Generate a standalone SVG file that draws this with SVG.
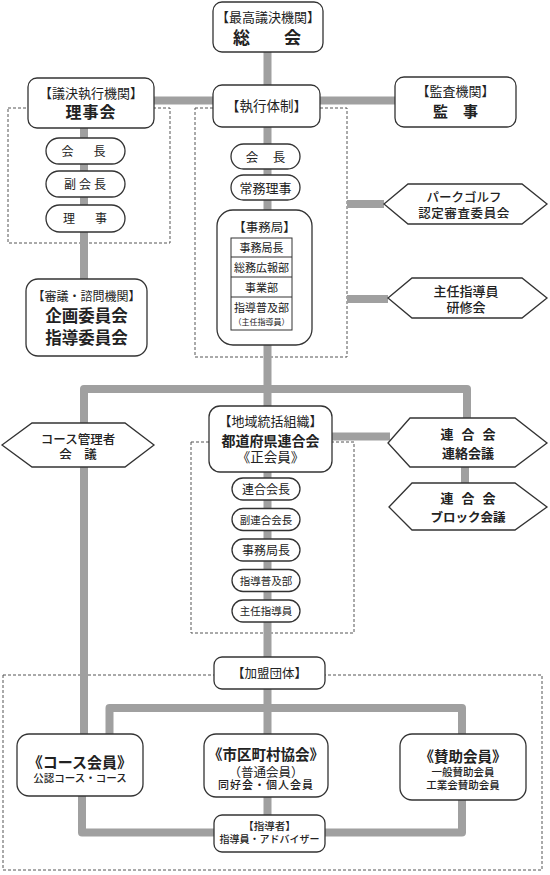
<svg xmlns="http://www.w3.org/2000/svg" width="550" height="875" viewBox="0 0 550 875">
<style>
.box{fill:#fff;stroke:#333;stroke-width:1.3}
.dash{fill:none;stroke:#555;stroke-width:1;stroke-dasharray:3 2}
.conn{fill:none;stroke:#a0a0a0;stroke-width:8;stroke-linejoin:round}
.tbl{fill:#fff;stroke:#333;stroke-width:1}
text{font-family:"Noto Sans CJK JP","Noto Sans",sans-serif;fill:#222;text-anchor:middle}
.b{font-weight:700}
.m{font-weight:500}
.n{font-weight:400}
</style>
<rect x="0" y="0" width="550" height="875" fill="#fff"/>
<g id="frames">
<rect class="dash" x="8" y="108" width="162" height="135"/>
<rect class="dash" x="195" y="108" width="152" height="249"/>
<rect class="dash" x="191" y="442" width="163" height="191"/>
<rect class="dash" x="3" y="675" width="539" height="195"/>
</g>
<g id="connectors">
<path class="conn" d="M267.5,52 V815"/>
<path class="conn" d="M154,100.5 H395"/>
<path class="conn" d="M84,128 V279"/>
<path class="conn" d="M347,204 H384"/>
<path class="conn" d="M347,299 H388"/>
<path class="conn" d="M84,734 V389 H467 V418"/>
<path class="conn" d="M332,436.5 H390"/>
<path class="conn" d="M465,467 V484"/>
<path class="conn" d="M109.5,734 V708 H462 V832.5 H325"/>
<path class="conn" d="M82,796 V832.5 H214"/>
</g>
<g id="soukai">
<rect class="box" x="213" y="2" width="110" height="50" rx="9"/>
<text x="268" y="22" font-size="13"><tspan x="268" y="22">【最高議決機関】</tspan><tspan class="b" x="267" y="44" font-size="17">総　　会</tspan></text>
</g>
<g id="rijikai">
<rect class="box" x="28" y="78" width="126" height="50" rx="9"/>
<text x="91" y="98" font-size="13"><tspan x="91" y="98">【議決執行機関】</tspan><tspan class="b" x="91" y="118" font-size="16" letter-spacing="1">理事会</tspan></text>
</g>
<g id="kanji">
<rect class="box" x="395" y="77" width="121" height="50" rx="9"/>
<text x="455.5" y="96" font-size="13"><tspan x="455.5" y="96">【監査機関】</tspan><tspan class="b" x="455.5" y="117" font-size="15">監　事</tspan></text>
</g>
<g id="shikkou">
<rect class="box" x="213" y="85" width="107" height="42" rx="9"/>
<text x="266.5" y="111" font-size="13.5">【執行体制】</text>
</g>
<g id="r-kaicho">
<rect class="box" x="46" y="138" width="79" height="26" rx="13"/>
<text x="85.5" y="156" font-size="12" letter-spacing="4">会　長</text>
</g>
<g id="r-fukukaicho">
<rect class="box" x="46" y="171" width="79" height="26" rx="13"/>
<text x="86.5" y="188.5" font-size="12" letter-spacing="3">副会長</text>
</g>
<g id="r-riji">
<rect class="box" x="46" y="205" width="79" height="27" rx="13.5"/>
<text x="87" y="223" font-size="12" letter-spacing="4">理　事</text>
</g>
<g id="iinkai">
<rect class="box" x="26" y="279" width="121" height="77" rx="12"/>
<text x="86.5" y="301" font-size="12"><tspan x="86.5" y="301">【審議・諮問機関】</tspan><tspan class="b" x="86.5" y="322" font-size="16.5">企画委員会</tspan><tspan class="b" x="86.5" y="344" font-size="16.5">指導委員会</tspan></text>
</g>
<g id="c-kaicho">
<rect class="box" x="231" y="144" width="69" height="25" rx="12.5"/>
<text x="266" y="161.5" font-size="12.5" letter-spacing="1">会　長</text>
</g>
<g id="c-jomu">
<rect class="box" x="231" y="175" width="69" height="25" rx="12.5"/>
<text x="265.5" y="192.5" font-size="13">常務理事</text>
</g>
<g id="jimukyoku">
<rect class="box" x="217" y="210" width="95" height="135" rx="16"/>
<text x="264.5" y="232" font-size="12.5">【事務局】</text>
<rect class="tbl" x="231" y="238" width="61" height="92"/>
<path class="tbl" d="M231,257 H292 M231,277 H292 M231,297 H292"/>
<text x="261.5" y="252" font-size="11">事務局長</text>
<text x="261.5" y="271.5" font-size="11">総務広報部</text>
<text x="261.5" y="291.5" font-size="11">事業部</text>
<text x="261.5" y="312" font-size="11"><tspan x="261.5" y="312">指導普及部</tspan><tspan x="261.5" y="324.5" font-size="8">（主任指導員）</tspan></text>
</g>
<g id="nintei">
<polygon class="box" points="384,204 408,184 522,184 547,204 522,224 408,224"/>
<text class="m" x="464" y="202" font-size="12.5"><tspan x="464" y="202">パークゴルフ</tspan><tspan x="464" y="218" letter-spacing="0.6">認定審査委員会</tspan></text>
</g>
<g id="kenshu">
<polygon class="box" points="388,298 412,278 522,278 547,298 522,318 412,318"/>
<text class="m" x="466" y="296" font-size="13"><tspan x="466" y="296">主任指導員</tspan><tspan x="466" y="312">研修会</tspan></text>
</g>
<g id="course-kanri">
<polygon class="box" points="2,445 32,423 125,423 154,445 125,467 32,467"/>
<text class="m" x="78" y="444" font-size="12.5"><tspan x="78" y="444">コース管理者</tspan><tspan x="78" y="459">会　議</tspan></text>
</g>
<g id="rengokai">
<rect class="box" x="209" y="406" width="123" height="66" rx="11"/>
<text x="270.5" y="426" font-size="13"><tspan x="270.5" y="426">【地域統括組織】</tspan><tspan class="b" x="270.5" y="446" font-size="14">都道府県連合会</tspan><tspan class="n" x="270.5" y="462" font-size="13.5">《正会員》</tspan></text>
</g>
<g id="renraku">
<polygon class="box" points="388,443 410,418 515,418 547,443 515,467 410,467"/>
<text class="b" x="468" y="439" font-size="13"><tspan x="472" y="439" letter-spacing="8">連合会</tspan><tspan x="468" y="458" letter-spacing="0">連絡会議</tspan></text>
</g>
<g id="block">
<polygon class="box" points="389,507 412,483 515,483 547,507 515,530 412,530"/>
<text class="b" x="468" y="503" font-size="13"><tspan x="472" y="503" letter-spacing="8">連合会</tspan><tspan x="468" y="522" font-size="12.5" letter-spacing="0">ブロック会議</tspan></text>
</g>
<g id="p-kaicho">
<rect class="box" x="232" y="478" width="68" height="22" rx="11"/>
<text x="266" y="493.5" font-size="12">連合会長</text>
</g>
<g id="p-fukukaicho">
<rect class="box" x="232" y="508.5" width="68" height="22" rx="11"/>
<text x="266" y="523.5" font-size="10.5">副連合会長</text>
</g>
<g id="p-jimukyokucho">
<rect class="box" x="232" y="539" width="68" height="22" rx="11"/>
<text x="266" y="554.5" font-size="12">事務局長</text>
</g>
<g id="p-shido">
<rect class="box" x="232" y="569.5" width="68" height="22" rx="11"/>
<text x="266" y="584.5" font-size="10.5">指導普及部</text>
</g>
<g id="p-shunin">
<rect class="box" x="232" y="600" width="68" height="22" rx="11"/>
<text x="266" y="615" font-size="10.5">主任指導員</text>
</g>
<g id="kamei">
<rect class="box" x="214" y="657" width="111" height="32" rx="8"/>
<text x="269.5" y="678" font-size="12.5">【加盟団体】</text>
</g>
<g id="course-kaiin">
<rect class="box" x="17" y="734" width="126" height="62" rx="12"/>
<text class="b" x="80" y="768" font-size="15"><tspan x="80" y="768">《コース会員》</tspan><tspan class="m" x="80" y="782" font-size="10.5">公認コース・コース</tspan></text>
</g>
<g id="shikuchoson">
<rect class="box" x="204" y="734" width="124" height="63" rx="12"/>
<text class="b" x="266" y="760" font-size="14.5"><tspan x="266" y="760">《市区町村協会》</tspan><tspan class="n" x="266" y="777" font-size="12.5">（普通会員）</tspan><tspan class="m" x="266" y="789" font-size="11" letter-spacing="1">同好会・個人会員</tspan></text>
</g>
<g id="sanjo">
<rect class="box" x="400" y="734" width="126" height="66" rx="12"/>
<text class="b" x="463" y="762" font-size="14.5"><tspan x="463" y="762">《賛助会員》</tspan><tspan class="m" x="463" y="776" font-size="10.5">一般賛助会員</tspan><tspan class="m" x="463" y="789" font-size="10.5">工業会賛助会員</tspan></text>
</g>
<g id="shidosha">
<rect class="box" x="214" y="815" width="111" height="37" rx="8"/>
<text class="m" x="269.5" y="830" font-size="10.5"><tspan x="269.5" y="830">【指導者】</tspan><tspan x="269.5" y="843" font-size="10">指導員・アドバイザー</tspan></text>
</g>
</svg>
